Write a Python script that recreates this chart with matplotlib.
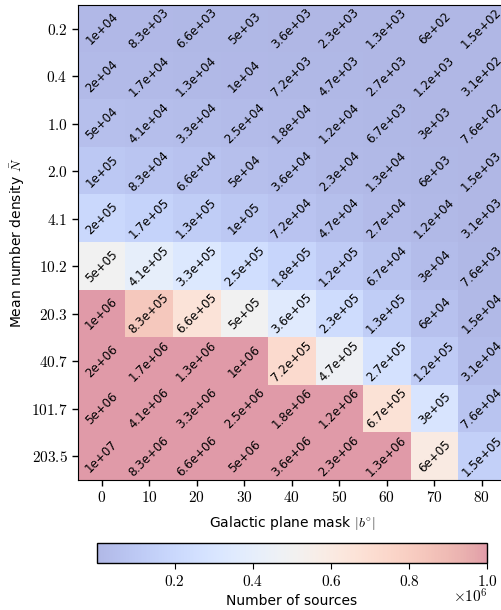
import numpy as np
import matplotlib.pyplot as plt
from matplotlib.colors import ListedColormap
from matplotlib.ticker import FuncFormatter

plt.rcParams['font.family'] = ['DejaVu Sans']
plt.rcParams['mathtext.fontset'] = 'cm'

# mean number density per row, galactic mask per column
densities = ['0.2', '0.4', '1.0', '2.0', '4.1', '10.2', '20.3', '40.7', '101.7', '203.5']
masks = [0, 10, 20, 30, 40, 50, 60, 70, 80]

row_02 = [1e4, 8.3e3, 6.6e3, 5e3, 3.6e3, 2.3e3, 1.3e3, 6e2, 1.5e2]
row_04 = [2e4, 1.7e4, 1.3e4, 1e4, 7.2e3, 4.7e3, 2.7e3, 1.2e3, 3.1e2]
row_10 = [5e4, 4.1e4, 3.3e4, 2.5e4, 1.8e4, 1.2e4, 6.7e3, 3e3, 7.6e2]
row_20 = [1e5, 8.3e4, 6.6e4, 5e4, 3.6e4, 2.3e4, 1.3e4, 6e3, 1.5e3]
row_41 = [2e5, 1.7e5, 1.3e5, 1e5, 7.2e4, 4.7e4, 2.7e4, 1.2e4, 3.1e3]
row_102 = [5e5, 4.1e5, 3.3e5, 2.5e5, 1.8e5, 1.2e5, 6.7e4, 3e4, 7.6e3]
row_203 = [1e6, 8.3e5, 6.6e5, 5e5, 3.6e5, 2.3e5, 1.3e5, 6e4, 1.5e4]
row_407 = [2e6, 1.7e6, 1.3e6, 1e6, 7.2e5, 4.7e5, 2.7e5, 1.2e5, 3.1e4]
row_1017 = [5e6, 4.1e6, 3.3e6, 2.5e6, 1.8e6, 1.2e6, 6.7e5, 3e5, 7.6e4]
row_2035 = [1e7, 8.3e6, 6.6e6, 5e6, 3.6e6, 2.3e6, 1.3e6, 6e5, 1.5e5]

counts = np.array([row_02, row_04, row_10, row_20, row_41,
                   row_102, row_203, row_407, row_1017, row_2035])

# faded coolwarm (coolwarm blended with white)
base = plt.get_cmap('coolwarm')(np.linspace(0, 1, 256))
alpha = 0.4
faded = base.copy()
faded[:, :3] = 1 - alpha * (1 - base[:, :3])
cmap = ListedColormap(faded)

fig = plt.figure(figsize=(5.02, 6.10), dpi=100)
ax = fig.add_axes([0.1554, 0.2131, 0.8516, 0.7787])
cax = fig.add_axes([0.1926, 0.0766, 0.778, 0.0328])

im = ax.imshow(counts, cmap=cmap, vmin=counts.min(), vmax=1e6, aspect='auto')

for i in range(counts.shape[0]):
    for j in range(counts.shape[1]):
        ax.text(j, i, '%.2g' % counts[i, j], ha='center', va='center',
                rotation=45, fontsize=8.6, color='black',
                rotation_mode='anchor')

ax.set_xticks(range(len(masks)))
ax.set_xticklabels(['$%d$' % m for m in masks], fontsize=11)
ax.set_yticks(range(len(densities)))
ax.set_yticklabels(['$%s$' % d for d in densities], fontsize=11)
ax.tick_params(length=4, width=1)
ax.set_xlabel(r'Galactic plane mask $|b^{\circ}|$', fontsize=10, labelpad=6)
ax.set_ylabel(r'Mean number density $\bar{N}$', fontsize=10, labelpad=3)

cb = fig.colorbar(im, cax=cax, orientation='horizontal')
cb.set_ticks([0.2e6, 0.4e6, 0.6e6, 0.8e6, 1.0e6])
cb.ax.xaxis.set_major_formatter(FuncFormatter(lambda v, p: '$%.1f$' % (v / 1e6)))
cb.ax.tick_params(labelsize=11, length=4)
cb.set_label('Number of sources', fontsize=10, labelpad=4)
cb.outline.set_linewidth(1)
cax.text(1.0, -1.2, r'$\times10^{6}$', transform=cax.transAxes,
         ha='right', va='top', fontsize=11)

fig.savefig('out.png', dpi=100)
